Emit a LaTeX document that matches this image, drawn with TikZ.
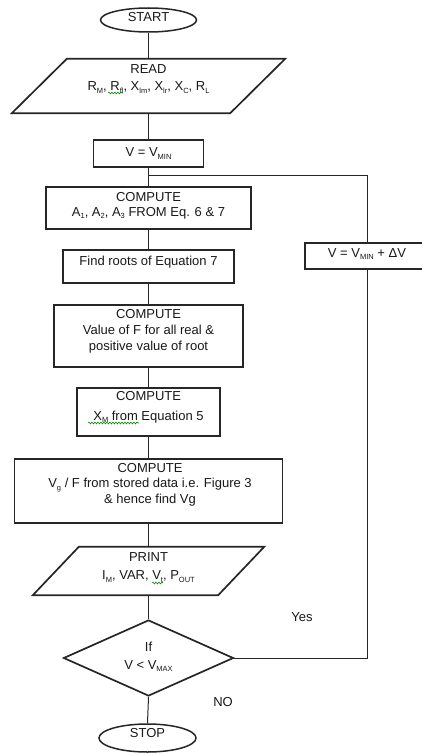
\documentclass[tikz,border=0pt]{standalone}
\usepackage{fontspec}
\setmainfont{Liberation Sans}
\usetikzlibrary{shapes.geometric,decorations.pathmorphing}
% small lowered subscript used in the variable names
\newcommand\lo[1]{\raisebox{-0.35ex}{\fontsize{7.5}{8}\selectfont #1}}
\begin{document}
\begin{tikzpicture}[x=1pt,y=-1pt,
  frame/.style={draw=black!85, line width=1.7pt},
  boxnode/.style={frame, rectangle, inner sep=0pt},
  oval/.style={frame, ellipse, inner sep=0pt, line width=1.5pt},
  ghost/.style={rectangle, inner sep=0pt},
  txt/.style={font=\fontsize{13}{16}\selectfont, align=center, inner sep=0pt, text=black!90},
  link/.style={draw=black!85, line width=1pt},
  squig/.style={draw=green!55!black, line width=0.6pt, decorate,
    decoration={snake, amplitude=0.9pt, segment length=3pt}}
]
\clip (0,0) rectangle (422,754);
\fill[white] (0,0) rectangle (422,754);

% ---- main column ----
\node[oval, minimum width=96pt, minimum height=24pt] (start) at (148.5,20) {};
\node[txt] at ([yshift=3pt]start.center) {START};

\node[ghost, minimum width=218pt, minimum height=54pt] (read) at (148.5,86) {};
\draw[frame] ([xshift=27.5pt]read.north west) -- ([xshift=27.5pt]read.north east)
  -- ([xshift=-27.5pt]read.south east) -- ([xshift=-27.5pt]read.south west) -- cycle;
\node[txt] at ([yshift=7pt]read.center) {READ\\[1pt]
  R\lo{M}, R\lo{fl}, X\lo{lm}, X\lo{lr}, X\lo{C}, R\lo{L}};

\node[boxnode, minimum width=110pt, minimum height=27pt] (vmin) at (148.5,153.5) {};
\node[txt] at (vmin.center) {V = V\lo{MIN}};

\coordinate (join) at (148.5,176);

\node[boxnode, minimum width=205pt, minimum height=42pt] (coef) at (148.5,208) {};
\node[txt] at ([yshift=2.5pt]coef.center) {COMPUTE\\[-1pt]
  A\lo{1}, A\lo{2}, A\lo{3} FROM Eq. 6 \& 7};

\node[boxnode, minimum width=171pt, minimum height=33pt] (roots) at (148.5,266.5) {};
\node[txt] at ([yshift=4.5pt]roots.center) {Find roots of Equation 7};

\node[boxnode, minimum width=189pt, minimum height=62pt] (fval) at (148.5,336) {};
\node[txt] at ([yshift=5pt]fval.center) {COMPUTE\\
  Value of F for all real \&\\ positive value of root};

\node[boxnode, minimum width=143pt, minimum height=48pt] (xm) at (148.5,412) {};
\node[txt] at ([yshift=5pt]xm.center) {COMPUTE\\[4pt]
  X\lo{M} from Equation 5};

\node[boxnode, minimum width=268pt, minimum height=64pt] (vg) at (148.5,491) {};
\node[txt] at ([yshift=6pt,xshift=1.5pt]vg.center) {COMPUTE\\[-1pt]
  V\lo{g} / F from stored data i.e. Figure 3\\ \& hence find Vg};

\node[ghost, minimum width=185pt, minimum height=48pt] (print) at (148.5,571) {};
\draw[frame] ([xshift=23pt]print.north west) -- ([xshift=23pt]print.north east)
  -- ([xshift=-23pt]print.south east) -- ([xshift=-23pt]print.south west) -- cycle;
\node[txt] at ([yshift=3.5pt]print.center) {PRINT\\[2pt]
  I\lo{M}, VAR, V\lo{t}, P\lo{OUT}};

\node[frame, diamond, inner sep=0pt, minimum width=170pt, minimum height=76pt] (dec) at (148.5,658) {};
\node[txt] at ([yshift=1.5pt]dec.center) {If\\[2pt] V < V\lo{MAX}};

\node[oval, minimum width=97pt, minimum height=28pt] (stop) at (147.5,738) {};
\node[txt] at ([yshift=5pt]stop.center) {STOP};

% ---- increment box on the loop ----
\node[boxnode, minimum width=124pt, minimum height=26pt] (inc) at (367,256) {};
\node[txt] at ([yshift=2pt]inc.center) {V = V\lo{MIN} + ΔV};

% ---- connectors ----
\draw[link] (start.south) -- (read.north);
\draw[link] (read.south) -- (vmin.north);
\draw[link] (vmin.south) -- (coef.north);
\draw[link] (coef.south) -- (roots.north);
\draw[link] (roots.south) -- (fval.north);
\draw[link] (fval.south) -- (xm.north);
\draw[link] (xm.south) -- (vg.north);
\draw[link] (vg.south) -- (print.north);
\draw[link] (print.south) -- (dec.north);
\draw[link] (dec.south) -- (stop.north);
\draw[link] (dec.east) -| (inc.south);
\draw[link] (inc.north) |- (join);

% ---- branch labels ----
\node[txt] (yes) at (302,617) {Yes};
\node[txt] (no) at (223,702) {NO};

% ---- spell-check squiggles ----
\draw[squig] (108,93) -- (123,93);
\draw[squig] (88,423) -- (139,423);
\draw[squig] (152,583) -- (163,583);
\end{tikzpicture}
\end{document}
